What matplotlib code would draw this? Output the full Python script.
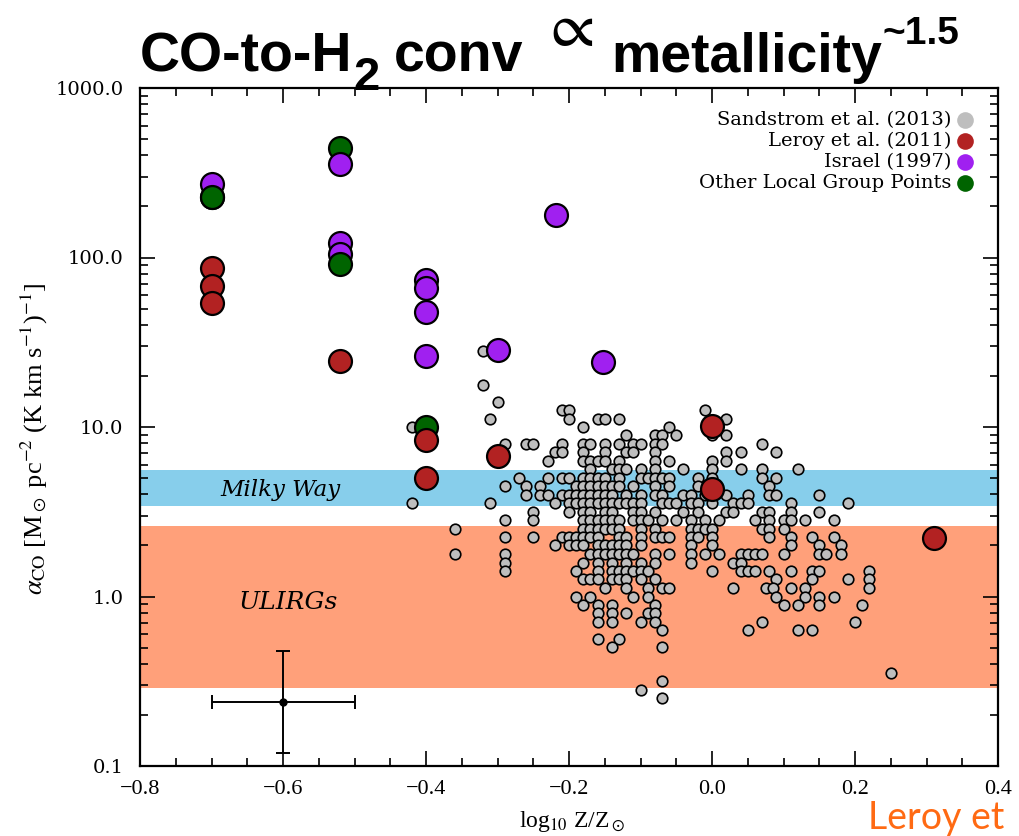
import matplotlib
matplotlib.use("Agg")
import matplotlib.pyplot as plt
from matplotlib.transforms import IdentityTransform
from matplotlib.ticker import MultipleLocator, LogLocator, FuncFormatter, NullFormatter

plt.rcParams['mathtext.fontset'] = 'stix'

# Sandstrom et al. (2013): alpha_CO levels and the metallicities found at each level
sandstrom_alpha = [28.2, 17.8, 14.1, 12.6, 11.2, 10.0, 8.91, 7.94, 7.08, 6.31,
                   5.62, 5.01, 4.47, 3.98, 3.55, 3.16, 2.82, 2.51, 2.24, 2.00,
                   1.78, 1.58, 1.41, 1.26, 1.12, 1.00, 0.891, 0.794, 0.708, 0.631,
                   0.562, 0.501, 0.355, 0.316, 0.282, 0.251]
sandstrom_z = [
    [-0.32],
    [-0.32],
    [-0.30],
    [-0.21, -0.20, -0.01],
    [-0.31, -0.20, -0.16, -0.15, -0.13, 0.02],
    [-0.42, -0.18, -0.06],
    [-0.12, -0.08, -0.07, -0.05, 0.00, 0.02],
    [-0.29, -0.26, -0.25, -0.21, -0.18, -0.17, -0.15, -0.13, -0.11, -0.10, -0.08, -0.07, 0.07],
    [-0.22, -0.21, -0.18, -0.15, -0.12, -0.11, -0.08, 0.02, 0.04, 0.09],
    [-0.23, -0.18, -0.17, -0.16, -0.15, -0.13, -0.08, -0.06, 0.00, 0.02],
    [-0.17, -0.14, -0.13, -0.12, -0.10, -0.08, -0.04, 0.00, 0.04, 0.07, 0.12],
    [-0.27, -0.23, -0.21, -0.20, -0.18, -0.17, -0.16, -0.15, -0.13, -0.10, -0.09, -0.08,
     -0.07, -0.06, -0.02, 0.00, 0.07, 0.09],
    [-0.29, -0.26, -0.24, -0.19, -0.18, -0.17, -0.16, -0.15, -0.14, -0.13, -0.11, -0.08,
     -0.06, -0.02, 0.08],
    [-0.26, -0.24, -0.23, -0.21, -0.20, -0.19, -0.18, -0.17, -0.16, -0.15, -0.14, -0.12,
     -0.10, -0.08, -0.07, -0.04, -0.03, -0.01, 0.02, 0.05, 0.08, 0.09, 0.15],
    [-0.42, -0.31, -0.22, -0.20, -0.19, -0.18, -0.17, -0.16, -0.15, -0.14, -0.13, -0.12,
     -0.11, -0.10, -0.07, -0.06, -0.05, -0.03, -0.02, 0.00, 0.03, 0.04, 0.05, 0.11, 0.19],
    [-0.25, -0.20, -0.18, -0.17, -0.15, -0.14, -0.11, -0.10, -0.08, -0.04, -0.02, 0.02,
     0.03, 0.07, 0.08, 0.11, 0.15],
    [-0.29, -0.25, -0.18, -0.17, -0.16, -0.15, -0.14, -0.13, -0.11, -0.10, -0.09, -0.07,
     -0.05, -0.03, -0.01, 0.01, 0.06, 0.08, 0.10, 0.11, 0.13, 0.17],
    [-0.36, -0.18, -0.17, -0.16, -0.15, -0.14, -0.13, -0.10, -0.08, -0.03, -0.02, -0.01,
     0.00, 0.07, 0.08, 0.10],
    [-0.29, -0.25, -0.21, -0.20, -0.19, -0.18, -0.17, -0.16, -0.13, -0.12, -0.10, -0.08,
     -0.07, -0.06, -0.03, -0.02, 0.00, 0.08, 0.11, 0.14, 0.17],
    [-0.22, -0.20, -0.19, -0.18, -0.16, -0.15, -0.14, -0.13, -0.12, -0.10, -0.03, 0.00,
     0.11, 0.15, 0.18],
    [-0.36, -0.29, -0.17, -0.16, -0.15, -0.14, -0.13, -0.12, -0.11, -0.08, -0.06, -0.03,
     -0.01, 0.01, 0.04, 0.05, 0.06, 0.07, 0.10, 0.15, 0.16, 0.18],
    [-0.29, -0.18, -0.16, -0.14, -0.12, -0.10, -0.08, -0.03, 0.03, 0.04],
    [-0.29, -0.19, -0.16, -0.14, -0.13, -0.12, -0.11, -0.10, -0.09, 0.00, 0.04, 0.05,
     0.06, 0.08, 0.11, 0.14, 0.15, 0.22],
    [-0.18, -0.17, -0.16, -0.14, -0.13, -0.12, -0.10, -0.08, 0.09, 0.14, 0.19, 0.22],
    [-0.15, -0.12, -0.09, -0.07, -0.06, 0.03, 0.075, 0.085, 0.11, 0.13, 0.22],
    [-0.19, -0.17, -0.11, -0.09, 0.09, 0.13, 0.15, 0.17],
    [-0.18, -0.16, -0.14, -0.08, 0.10, 0.12, 0.15, 0.21],
    [-0.16, -0.14, -0.12, -0.09, -0.08],
    [-0.16, -0.14, -0.10, -0.08, 0.07, 0.20],
    [-0.07, 0.05, 0.12, 0.14],
    [-0.16, -0.13],
    [-0.14, -0.07],
    [0.25],
    [-0.07],
    [-0.10],
    [-0.07],
]

leroy_z = [-0.70, -0.70, -0.70, -0.52, -0.40, -0.40, -0.30, 0.00, 0.00, 0.31]
leroy_alpha = [87, 68, 54, 24.4, 8.4, 4.97, 6.75, 10.2, 4.3, 2.2]

israel_z = [-0.70, -0.52, -0.52, -0.52, -0.40, -0.40, -0.40, -0.40, -0.30, -0.218, -0.152]
israel_alpha = [270, 354, 122, 105, 74, 66, 48, 26.2, 28.5, 178, 24.2]

other_z = [-0.70, -0.52, -0.52, -0.40]
other_alpha = [229, 444, 91, 10.0]

# reference ranges
milky_way = (3.4, 5.6)
ulirgs = (0.29, 2.6)

# typical uncertainty
err_z, err_alpha = -0.6, 0.24
err_dz = 0.1
err_lo, err_hi = 0.12, 0.48

legend_labels = ['Sandstrom et al. (2013)', 'Leroy et al. (2011)', 'Israel (1997)',
                 'Other Local Group Points']
legend_colors = ['#BEBEBE', '#B22222', '#A020F0', '#006400']

W, H = 1019, 836
fig = plt.figure(figsize=(W / 100, H / 100), dpi=100)
ax = fig.add_axes([140 / W, 1 - 766 / H, 858 / W, 678 / H])
ax.set_xlim(-0.8, 0.4)
ax.set_yscale('log')
ax.set_ylim(0.1, 1000)

ax.axhspan(*milky_way, color='#87CEEB', lw=0, zorder=0)
ax.axhspan(*ulirgs, color='#FFA07A', lw=0, zorder=0)

for alpha, zs in zip(sandstrom_alpha, sandstrom_z):
    ax.plot(zs, [alpha] * len(zs), 'o', ls='none', ms=7.6, mfc=legend_colors[0],
            mec='black', mew=1.2, zorder=2)

big = dict(ls='none', marker='o', ms=16.5, mec='black', mew=1.6)
# the highest local-group point sits underneath the Israel points
ax.plot(other_z[:2], other_alpha[:2], mfc=legend_colors[3], zorder=2.5, **big)
ax.plot(israel_z, israel_alpha, mfc=legend_colors[2], zorder=3, **big)
ax.plot(other_z[2:], other_alpha[2:], mfc=legend_colors[3], zorder=4, **big)
ax.plot(other_z[0], other_alpha[0], mfc=legend_colors[3], zorder=4, **big)
ax.plot(leroy_z, leroy_alpha, mfc=legend_colors[1], zorder=5, **big)

ax.errorbar(err_z, err_alpha, xerr=err_dz,
            yerr=[[err_alpha - err_lo], [err_hi - err_alpha]],
            fmt='o', color='black', ms=5, lw=1.4, capsize=5, capthick=1.4, zorder=6)

ax.text(-0.688, 4.25, 'Milky Way', style='italic', family='DejaVu Serif',
        fontsize=16.5, va='center', ha='left', zorder=1)
ax.text(-0.662, 0.92, 'ULIRGs', style='italic', family='DejaVu Serif',
        fontsize=18, va='center', ha='left', zorder=1)

# legend drawn by hand: text right-aligned, dot to the right
for i, (lab, col) in enumerate(zip(legend_labels, legend_colors)):
    yy = 0.953 - i * 0.031
    ax.text(0.946, yy, lab, transform=ax.transAxes, ha='right', va='center',
            family='DejaVu Serif', fontsize=14)
    ax.plot(0.9615, yy, 'o', transform=ax.transAxes, ms=12, mfc=col, mec=col,
            mew=0, clip_on=False, zorder=7)

# axes styling
for sp in ax.spines.values():
    sp.set_linewidth(1.6)
ax.xaxis.set_major_locator(MultipleLocator(0.2))
ax.xaxis.set_minor_locator(MultipleLocator(0.05))
ax.xaxis.set_major_formatter(FuncFormatter(lambda v, _: f'{v:.1f}'.replace('-', '\u2212')))
ax.yaxis.set_major_locator(LogLocator(base=10))
ax.yaxis.set_minor_locator(LogLocator(base=10, subs=range(2, 10)))
ax.yaxis.set_major_formatter(FuncFormatter(lambda v, _: f'{v:.1f}'))
ax.yaxis.set_minor_formatter(NullFormatter())
ax.tick_params(which='both', direction='in', top=True, right=True, width=1.2)
ax.tick_params(which='major', length=11)
ax.tick_params(which='minor', length=5.5)
ax.tick_params(axis='x', pad=10, labelsize=16)
ax.tick_params(axis='y', pad=12, labelsize=14)
for lab in ax.get_xticklabels():
    lab.set_family('Liberation Serif')
for lab in ax.get_yticklabels():
    lab.set_family('DejaVu Serif')

fig.text(572 / W, 1 - 822 / H, r'log$_{10}$ Z/Z$_\odot$', ha='center', va='center',
         fontsize=17, family='Liberation Serif')
fig.text(34 / W, 1 - 439 / H,
         r'$\alpha_{\rm CO}$ [M$_\odot$ pc$^{-2}$ (K km s$^{-1}$)$^{-1}$]',
         rotation=90, ha='center', va='center', fontsize=19, family='Liberation Serif')

# title built piece by piece so the subscript, symbol and exponent sit where they should
renderer = fig.canvas.get_renderer()
tfont = ['Liberation Sans', 'DejaVu Sans']
pieces = [
    ('CO-to-H', 40, 0, 'bold', 0),
    ('2', 34, -18, 'bold', 1),
    ('conv', 40, 0, 'bold', 14),
    (r'$\propto$', 46, 26, 'normal', 18),
    ('metallicity', 40, 0, 'bold', 18),
    ('~1.5', 28, 28, 'bold', 0),
]
x = 140
base = H - 72
for s, size, dy, weight, gap in pieces:
    x += gap
    t = fig.text(x, base + dy, s, transform=IdentityTransform(), fontsize=size,
                 fontweight=weight, family=tfont, ha='left', va='baseline')
    x = t.get_window_extent(renderer).x1

fig.text(868 / W, 7 / H, 'Leroy et', color='#FF6A13', fontsize=27,
         family=['Liberation Sans Narrow', 'Lato'], ha='left', va='baseline')

fig.savefig('out.png', dpi=100)
